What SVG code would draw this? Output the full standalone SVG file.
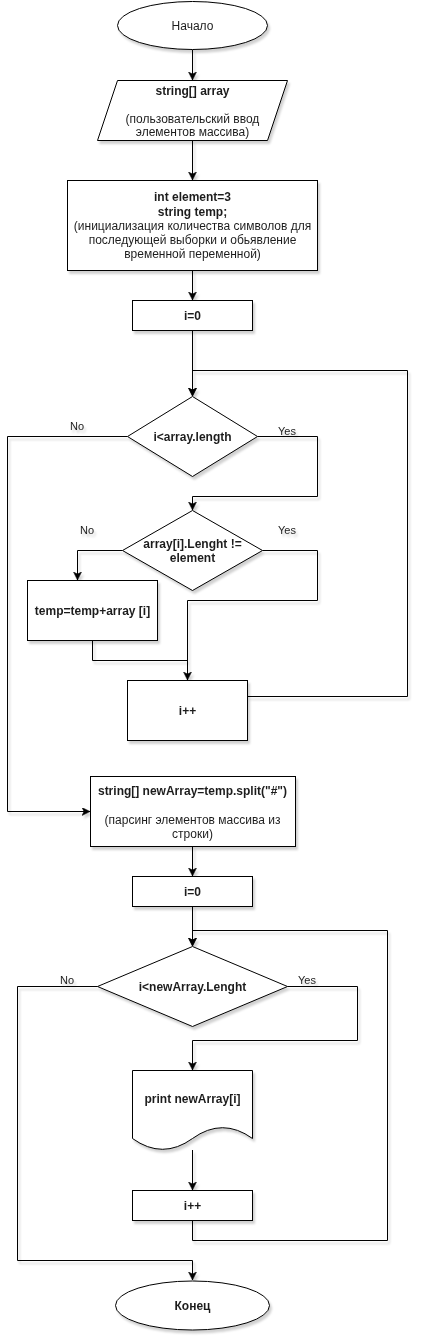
<svg xmlns="http://www.w3.org/2000/svg" width="427" height="1342" viewBox="0 0 427 1342">
<style>
.s{fill:#fff;stroke:#000;stroke-width:1}
.c{fill:none;stroke:#000;stroke-width:1}
.t{font-family:"Liberation Sans",Arial,sans-serif;font-size:12px;fill:#1e1e1e;text-anchor:middle}
.b{font-weight:bold}
.l{font-family:"Liberation Sans",Arial,sans-serif;font-size:11px;fill:#1e1e1e;text-anchor:middle}
</style>
<defs>
<filter id="sh" filterUnits="userSpaceOnUse" x="0" y="0" width="427" height="1342">
<feDropShadow dx="2" dy="3" stdDeviation="1.2" flood-color="#000" flood-opacity="0.18"/>
</filter>
<marker id="a" markerUnits="userSpaceOnUse" markerWidth="10" markerHeight="10" refX="8" refY="4" orient="auto">
<path d="M0,0 L8,4 L0,8 L2,4 Z" fill="#000" stroke="#000" stroke-width="0.5"/>
</marker>
</defs>
<rect width="427" height="1342" fill="#fff"/>
<g id="connectors" filter="url(#sh)">
<path class="c" d="M192.5,50 V80" marker-end="url(#a)"/>
<path class="c" d="M192.5,140 V180" marker-end="url(#a)"/>
<path class="c" d="M192.5,270 V300" marker-end="url(#a)"/>
<path class="c" d="M192.5,330 V396" marker-end="url(#a)"/>
<path class="c" d="M127.5,436.5 H7.5 V811.5 H90" marker-end="url(#a)"/>
<path class="c" d="M257.5,436.5 H317.5 V496.5 H192.5 V510" marker-end="url(#a)"/>
<path class="c" d="M122.5,550.5 H77.5 V580" marker-end="url(#a)"/>
<path class="c" d="M262.5,550.5 H317.5 V600.5 H187.5 V680" marker-end="url(#a)"/>
<path class="c" d="M92.5,640 V660.5 H187.5"/>
<path class="c" d="M247.5,696.5 H407.5 V370.5 H192.5 V396" marker-end="url(#a)"/>
<path class="c" d="M192.5,846 V876" marker-end="url(#a)"/>
<path class="c" d="M192.5,906 V946" marker-end="url(#a)"/>
<path class="c" d="M97.5,986.5 H17.5 V1260.5 H192.5 V1280" marker-end="url(#a)"/>
<path class="c" d="M287.5,986.5 H357.5 V1040.5 H192.5 V1070" marker-end="url(#a)"/>
<path class="c" d="M192.5,1150 V1190" marker-end="url(#a)"/>
<path class="c" d="M192.5,1220 V1240.5 H387.5 V930.5 H192.5 V946" marker-end="url(#a)"/>
<text class="l" x="77" y="429.5">No</text>
<text class="l" x="287" y="434.5">Yes</text>
<text class="l" x="87" y="534">No</text>
<text class="l" x="287" y="534">Yes</text>
<text class="l" x="67" y="984">No</text>
<text class="l" x="307" y="984">Yes</text>
</g>
<g id="start" filter="url(#sh)">
<ellipse class="s" cx="192.5" cy="25.5" rx="75" ry="24"/>
<text class="t" x="192.5" y="29.5">Начало</text>
</g>
<g id="input" filter="url(#sh)">
<polygon class="s" points="117.5,80.5 287.5,80.5 267.5,140.5 97.5,140.5"/>
<text class="t b" x="192.5" y="94.5">string[] array</text>
<text class="t" x="192.5" y="122.5">(пользовательский ввод</text>
<text class="t" x="192.5" y="136">элементов массива)</text>
</g>
<g id="init" filter="url(#sh)">
<rect class="s" x="67.5" y="180.5" width="250" height="90"/>
<text class="t b" x="192.5" y="201">int element=3</text>
<text class="t b" x="192.5" y="215.5">string temp;</text>
<text class="t" x="192.5" y="229.5">(инициализация количества символов для</text>
<text class="t" x="192.5" y="244">последующей выборки и обьявление</text>
<text class="t" x="192.5" y="258">временной переменной)</text>
</g>
<g id="i0a" filter="url(#sh)">
<rect class="s" x="132.5" y="300.5" width="120" height="30"/>
<text class="t b" x="192.5" y="319.5">i=0</text>
</g>
<g id="cond1" filter="url(#sh)">
<polygon class="s" points="192.5,396.5 257.5,436.5 192.5,476.5 127.5,436.5"/>
<text class="t b" x="192.5" y="440.5">i&lt;array.length</text>
</g>
<g id="cond2" filter="url(#sh)">
<polygon class="s" points="192.5,510.5 262.5,550.5 192.5,590.5 122.5,550.5"/>
<text class="t b" x="192.5" y="547.5">array[i].Lenght !=</text>
<text class="t b" x="192.5" y="562">element</text>
</g>
<g id="concat" filter="url(#sh)">
<rect class="s" x="27.5" y="580.5" width="130" height="60"/>
<text class="t b" x="92.5" y="614.5">temp=temp+array [i]</text>
</g>
<g id="inc1" filter="url(#sh)">
<rect class="s" x="127.5" y="680.5" width="120" height="60"/>
<text class="t b" x="187.5" y="714.5">i++</text>
</g>
<g id="split" filter="url(#sh)">
<rect class="s" x="90.5" y="776.5" width="205" height="70"/>
<text class="t b" x="192.5" y="795">string[] newArray=temp.split("#")</text>
<text class="t" x="192.5" y="823.5">(парсинг элементов массива из</text>
<text class="t" x="192.5" y="837.5">строки)</text>
</g>
<g id="i0b" filter="url(#sh)">
<rect class="s" x="132.5" y="876.5" width="120" height="30"/>
<text class="t b" x="192.5" y="895.5">i=0</text>
</g>
<g id="cond3" filter="url(#sh)">
<polygon class="s" points="192.5,946.5 287.5,986.5 192.5,1026.5 97.5,986.5"/>
<text class="t b" x="192.5" y="990.5">i&lt;newArray.Lenght</text>
</g>
<g id="print" filter="url(#sh)">
<path class="s" d="M132.5,1070.5 H252.5 V1138.5 Q222.5,1116.9 192.5,1138.5 Q162.5,1160.1 132.5,1138.5 Z"/>
<text class="t b" x="192.5" y="1102.5">print newArray[i]</text>
</g>
<g id="inc2" filter="url(#sh)">
<rect class="s" x="132.5" y="1190.5" width="120" height="30"/>
<text class="t b" x="192.5" y="1209.5">i++</text>
</g>
<g id="end" filter="url(#sh)">
<ellipse class="s" cx="192.5" cy="1305.5" rx="77" ry="24.5"/>
<text class="t b" x="192.5" y="1309.5">Конец</text>
</g>
</svg>
